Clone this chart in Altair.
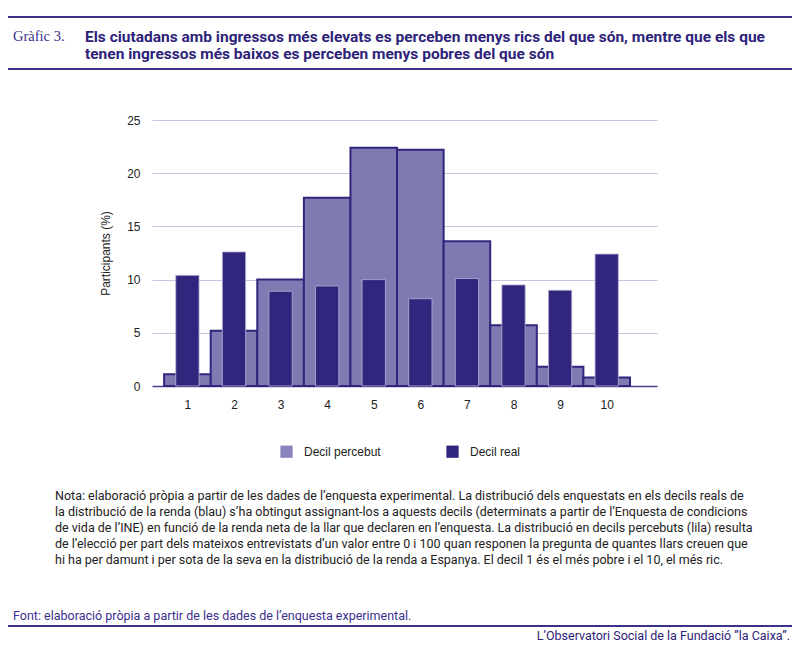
import altair as alt
import pandas as pd

deciles = list(range(1, 11))
percebut = [1.1, 5.2, 10.0, 17.7, 22.4, 22.2, 13.6, 5.7, 1.8, 0.8]
real = [10.4, 12.6, 8.9, 9.4, 10.0, 8.2, 10.1, 9.5, 9.0, 12.4]
series = ["Decil percebut", "Decil real"]
y_ticks = [0, 5, 10, 15, 20, 25]

title_lines = [
    "Els ciutadans amb ingressos més elevats es perceben menys rics del que són, mentre que els que",
    "tenen ingressos més baixos es perceben menys pobres del que són",
]
note_lines = [
    "Nota: elaboració pròpia a partir de les dades de l’enquesta experimental. La distribució dels enquestats en els decils reals de",
    "la distribució de la renda (blau) s’ha obtingut assignant-los a aquests decils (determinats a partir de l’Enquesta de condicions",
    "de vida de l’INE) en funció de la renda neta de la llar que declaren en l’enquesta. La distribució en decils percebuts (lila) resulta",
    "de l’elecció per part dels mateixos entrevistats d’un valor entre 0 i 100 quan responen la pregunta de quantes llars creuen que",
    "hi ha per damunt i per sota de la seva en la distribució de la renda a Espanya. El decil 1 és el més pobre i el 10, el més ric.",
]
source_text = "Font: elaboració pròpia a partir de les dades de l’enquesta experimental."
credit_text = "L’Observatori Social de la Fundació ”la Caixa”."

DARK = "#30267e"
LIGHT = "#807ab2"
INK = "#2d2379"
RULE = "#3b3189"
FONT = "Liberation Sans"

df_p = pd.DataFrame({"decil": deciles, "valor": percebut, "serie": series[0]})
df_r = pd.DataFrame({"decil": deciles, "valor": real, "serie": series[1]})

x_scale = alt.Scale(domain=[0.24, 11.08], nice=False, zero=False, padding=0)
y_scale = alt.Scale(domain=[0, 25], nice=False, padding=0)
color = alt.Color(
    "serie:N",
    scale=alt.Scale(domain=series, range=["#8a84be", DARK]),
    legend=alt.Legend(
        title=None, orient="none", direction="horizontal",
        legendX=128, legendY=325, symbolType="square", symbolSize=150,
        symbolStrokeWidth=0, labelFontSize=12, labelFont=FONT, labelColor="#222",
        labelOffset=11, columnPadding=65,
    ),
)

perc = alt.Chart(df_p).transform_calculate(
    x0="datum.decil - 0.5", x1="datum.decil + 0.5"
).mark_bar(stroke=DARK, strokeWidth=2, fill=LIGHT).encode(
    x=alt.X("x0:Q", scale=x_scale, axis=alt.Axis(
        values=deciles, ticks=False, grid=False, title=None, format="d",
        labelPadding=13, labelFontSize=12, labelFont=FONT, labelColor="#222",
        domainColor="#4a4090", domainWidth=1.5)),
    x2="x1:Q",
    y=alt.Y("valor:Q", scale=y_scale, axis=alt.Axis(
        values=y_ticks, ticks=False, domain=False, gridColor="#c8c4e0",
        labelPadding=12, labelFontSize=12, labelFont=FONT, labelColor="#222",
        title="Participants (%)", titleFontSize=12, titleFont=FONT,
        titleFontWeight="normal", titleColor="#222", titlePadding=14)),
    y2=alt.datum(0),
    color=color,
)

reals = alt.Chart(df_r).transform_calculate(
    x0="datum.decil - 0.25", x1="datum.decil + 0.25"
).mark_bar(stroke="#b9b4d6", strokeWidth=0.8, fill=DARK).encode(
    x="x0:Q", x2="x1:Q", y="valor:Q", y2=alt.datum(0), color=color,
)


def one_row():
    return pd.DataFrame({"k": [0]})


def hrule(y):
    return alt.Chart(one_row()).mark_rule(color=RULE, strokeWidth=2).encode(
        x=alt.value(-144), x2=alt.value(640), y=alt.value(y)
    )


def label(text, x, y, **kw):
    return alt.Chart(one_row()).mark_text(text=text, **kw).encode(
        x=alt.value(x), y=alt.value(y)
    )


grafic = label("Gràfic 3.", -139, -83, align="left", baseline="middle",
               font="Liberation Serif", fontSize=14.5, color=RULE)
title = label(title_lines, -67, -90, align="left", baseline="top", lineHeight=17,
              font="Roboto", fontSize=15.5, fontWeight="bold", color=INK)
note = label(note_lines, -97, 370, align="left", baseline="top", lineHeight=16,
             font="Roboto", fontSize=12.5, color="#222")
source = label(source_text, -139, 496, align="left", baseline="middle",
               font="Roboto", fontSize=12.5, color="#3b2f8f")
credit = label(credit_text, 638, 516, align="right", baseline="middle",
               font="Roboto", fontSize=12.5, color=INK)

chart = alt.layer(
    perc, reals, hrule(-103), hrule(-51), hrule(506),
    grafic, title, note, source, credit,
).properties(
    width=505, height=266,
    autosize=alt.AutoSizeParams(type="none"),
    padding={"left": 144, "top": 112, "right": 135, "bottom": 256},
).configure_view(stroke=None)

chart.save("out.html", embed_options={"renderer": "svg", "actions": False})
